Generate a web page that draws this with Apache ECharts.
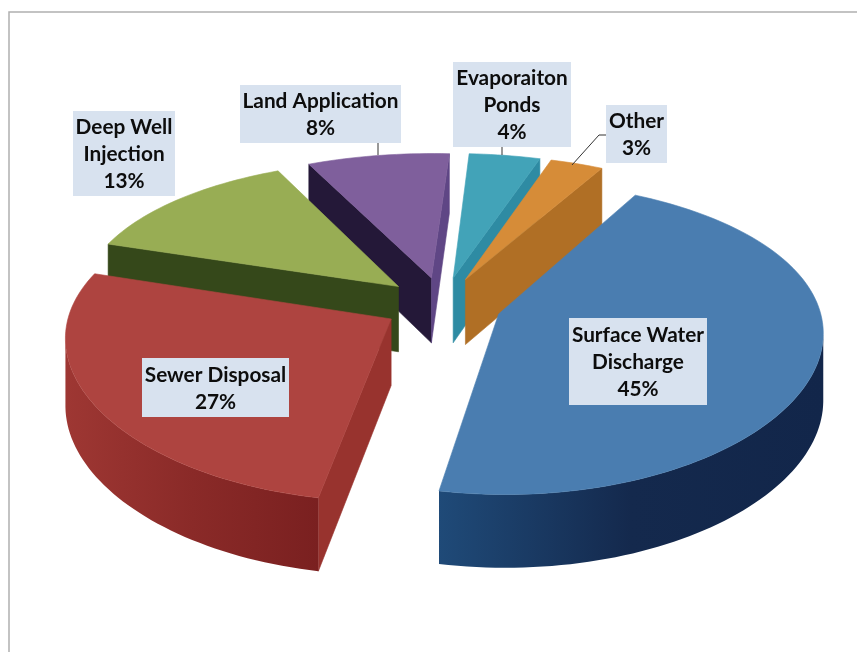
<!DOCTYPE html>
<html><head><meta charset="utf-8">
<style>html,body{margin:0;padding:0;background:#fff}#c{width:857px;height:652px}</style>
<script src="https://cdn.jsdelivr.net/npm/echarts@6/dist/echarts.min.js"></script>
</head><body><div id="c"></div>
<script>
const categories = ["Surface Water\nDischarge","Sewer Disposal","Deep Well\nInjection","Land Application","Evaporaiton\nPonds","Other"];
const shares = [45,27,13,8,4,3];

const topColors  = ["#4a7db0","#ae4440","#98ad54","#7f5f9c","#42a3b8","#d68c38"];
const startCut   = ["#1f4a78","#98332e","#35481a","#241838","#2e8ba3","#b06f25"];
const endCut     = ["#1f4a78","#98332e","#35481a","#5f4685","#2e8ba3","#b06f25"];
const sideFrom   = ["#12264a","#7a2020","#35481a","#241838","#2e8ba3","#b06f25"];
const sideMid    = ["#14294d","#8a2a28","#35481a","#241838","#2e8ba3","#b06f25"];
const sideTo     = ["#1f4a78","#9e3733","#35481a","#241838","#2e8ba3","#b06f25"];
const paintOrder = [100,90,80,50,40,60];
const labelBoxes = [[569,318,138,87],[142,358,147,59],[73,111,102,85],[240,85,161,58],[453,62,118,85],[606,105,61,58]];
const leaders = [null,null,null,[[378,143],[378,155]],[[502,147],[502,155]],[[606,135],[599,135],[572,165]]];
const view = {cx:442.5,cy:304.5,R:320,tilt:0.47,persp:0.15,depth:66,explode:0.185,start:28.6};

const total = shares.reduce((a,b)=>a+b,0);
const rad = d => d*Math.PI/180;
function project(X,Y,down){
  const s = 1/(1-view.persp*Y);
  return [view.cx+X*view.R*Math.pow(s,0.7), view.cy+Y*view.R*view.tilt*s+down*view.depth*Math.pow(s,0.6)];
}
function cross4(q){
  const v=q.slice(1).map(p=>[p[0]-q[0][0],p[1]-q[0][1]]);
  return (v[0][0]*v[1][1]-v[0][1]*v[1][0])+(v[1][0]*v[2][1]-v[1][1]*v[2][0]);
}
function renderSlice(params,api){
  const i=params.dataIndex;
  const before=shares.slice(0,i).reduce((a,b)=>a+b,0);
  const a0=view.start+before/total*360, a1=a0+api.value(0)/total*360, mid=(a0+a1)/2;
  const ox=Math.sin(rad(mid))*view.explode, oy=-Math.cos(rad(mid))*view.explode;
  const rim=(a,d)=>project(ox+Math.sin(rad(a)),oy-Math.cos(rad(a)),d);
  const z2=paintOrder[i];
  const kids=[];
  const poly=(pts,fill,z)=>kids.push({type:'polygon',z2:z,shape:{points:pts},style:{fill:fill,stroke:fill,lineWidth:0.6}});
  const apexT=project(ox,oy,0), apexB=project(ox,oy,1);
  const steps=Math.max(6,Math.round((a1-a0)/1.5));
  const topPts=[apexT];
  for(let k=0;k<=steps;k++) topPts.push(rim(a0+(a1-a0)*k/steps,0));
  const qs=[apexT,rim(a0,0),rim(a0,1),apexB];
  if(cross4(qs)<0) poly(qs,startCut[i],z2);
  const qe=[apexT,rim(a1,0),rim(a1,1),apexB];
  if(cross4(qe)>0) poly(qe,endCut[i],z2);
  const upper=[],lower=[];
  for(let k=0;k<steps;k++){
    const b0=a0+(a1-a0)*k/steps,b1=a0+(a1-a0)*(k+1)/steps;
    const q=[rim(b0,0),rim(b1,0),rim(b1,1),rim(b0,1)];
    if(cross4(q)<0){
      if(!upper.length){upper.push(q[0]);lower.push(q[3]);}
      upper.push(q[1]);lower.push(q[2]);
    }
  }
  if(upper.length){
    const x0=upper[0][0],x1=upper[upper.length-1][0];
    const fill=new echarts.graphic.LinearGradient(x0,0,x1,0,[
      {offset:0,color:sideFrom[i]},{offset:0.5,color:sideMid[i]},{offset:1,color:sideTo[i]}],true);
    kids.push({type:'polygon',z2:z2,shape:{points:upper.concat(lower.reverse())},style:{fill:fill}});
  }
  poly(topPts,topColors[i],z2+1);
  return {type:'group',children:kids};
}
function renderLabel(params,api){
  const i=params.dataIndex,b=labelBoxes[i];
  const kids=[{type:'rect',z2:200,shape:{x:b[0],y:b[1],width:b[2],height:b[3]},style:{fill:'#d8e2ef'}},
    {type:'text',z2:201,x:b[0]+b[2]/2,y:b[1]+b[3]/2+1,style:{text:categories[i]+"\n"+api.value(0)+"%",
      fill:'#0d0d0d',align:'center',verticalAlign:'middle',font:'bold 20.8px Lato',lineHeight:27}}];
  if(leaders[i]) kids.push({type:'polyline',z2:199,shape:{points:leaders[i]},style:{fill:'none',stroke:'#333',lineWidth:1}});
  return {type:'group',children:kids};
}
const sliceData=categories.map((c,i)=>({name:c,value:shares[i]}));
const chart=echarts.init(document.getElementById('c'),null,{renderer:'canvas'});
chart.setOption({
  animation:false,backgroundColor:'#fff',
  graphic:[{type:'rect',z:0,shape:{x:9,y:12,width:900,height:700},style:{fill:'#fff',stroke:'#b0b0b0',lineWidth:1.5}}],
  series:[
    {type:'custom',coordinateSystem:'none',renderItem:renderSlice,data:sliceData,z:2},
    {type:'custom',coordinateSystem:'none',renderItem:renderLabel,data:sliceData,z:3}
  ]
});
</script></body></html>
